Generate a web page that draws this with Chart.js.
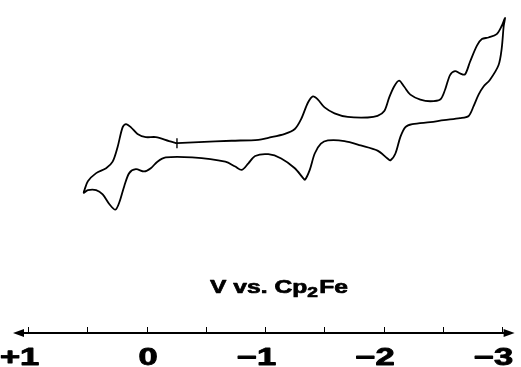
<!DOCTYPE html>
<html>
<head>
<meta charset="utf-8">
<script src="https://cdn.jsdelivr.net/npm/chart.js@4/dist/chart.umd.min.js"></script>
<style>
  html, body { margin: 0; padding: 0; background: #ffffff; }
  #wrap { width: 521px; height: 367px; }
</style>
</head>
<body>
<div id="wrap"><canvas id="cv" width="521" height="367"></canvas></div>
<script>
// Potential (V vs. Cp2Fe), in sweep order from the start point
const potentialV = [
  -0.256, -0.440, -0.717, -0.943, -1.027, -1.167, -1.251, -1.304, -1.362, -1.404,
  -1.446, -1.502, -1.586, -1.698, -1.866, -1.949, -2.006, -2.047, -2.089, -2.131,
  -2.173, -2.226, -2.310, -2.394, -2.478, -2.519, -2.561, -2.603, -2.645, -2.687,
  -2.729, -2.788, -2.830, -2.886, -2.955, -2.997, -3.025,
  -3.014, -2.997, -2.970, -2.897, -2.844, -2.802, -2.760, -2.718, -2.645, -2.509,
  -2.394, -2.243, -2.184, -2.142, -2.100, -2.058, -2.033, -1.949, -1.807, -1.670,
  -1.530, -1.471, -1.419, -1.377, -1.337, -1.321, -1.251, -1.136, -1.027, -0.916,
  -0.859, -0.803, -0.748, -0.664, -0.384, -0.161, -0.091, -0.035, 0.021, 0.091,
  0.147, 0.189, 0.231, 0.264, 0.314, 0.371, 0.426, 0.496, 0.530,
  0.524, 0.496, 0.426, 0.342, 0.287, 0.245, 0.203, 0.174, 0.132, 0.077,
  0.007, -0.077, -0.189, -0.256
];
// Current (arbitrary units), same order
const currentAU = [
  1.05, 1.17, 1.3, 1.4, 1.6, 2.0, 2.5, 3.5, 5.2, 5.83,
  5.5, 4.7, 4.1, 3.73, 3.67, 3.83, 4.33, 5.7, 6.83, 7.43,
  6.83, 6.0, 5.5, 5.33, 5.5, 6.5, 8.0, 8.4, 8.17, 8.07,
  9.33, 11.0, 11.67, 11.83, 12.17, 13.0, 13.83,
  13.0, 10.7, 9.0, 7.5, 6.83, 6.0, 4.83, 3.83, 3.6, 3.4,
  3.2, 3.0, 2.7, 1.7, 0.0, -0.7, -0.5, 0.3, 0.83, 1.27,
  1.33, 1.0, 0.0, -1.67, -2.67, -2.5, -1.5, -0.5, -0.07, -0.25,
  -1.0, -1.67, -1.33, -0.83, -0.4, -0.4, -0.83, -1.5, -1.83, -1.6,
  -2.0, -3.33, -5.0, -5.73, -5.17, -4.17, -3.73, -3.73, -4.0,
  -3.7, -2.83, -2.0, -1.5, -0.83, 0.67, 2.67, 3.0, 2.67, 2.0,
  1.67, 1.67, 1.27, 1.05
];
const startPotential = [-0.256];
const startCurrent = [1.05];

const tickValues = [1, 0.5, 0, -0.5, -1, -1.5, -2, -2.5, -3];
const labelValues = [1, 0, -1, -2, -3];
const labelTexts = ["+1", "0", "\u22121", "\u22122", "\u22123"];
const axisTitleMain = "V vs. Cp";
const axisTitleSub = "2";
const axisTitleEnd = "Fe";

const cvPoints = potentialV.map((v, i) => ({ x: v, y: currentAU[i] }));
const startPoints = startPotential.map((v, i) => ({ x: v, y: startCurrent[i] }));

function heavyText(ctx, t, x, y) {
  ctx.fillText(t, x, y);
  ctx.strokeText(t, x, y);
}

const axisPlugin = {
  id: 'potentialAxis',
  afterDraw(chart) {
    const ctx = chart.ctx;
    const xs = chart.scales.x;
    const area = chart.chartArea;
    const yAxis = area.bottom;
    ctx.save();
    ctx.strokeStyle = '#000';
    ctx.fillStyle = '#000';
    // axis line
    ctx.lineWidth = 2;
    ctx.beginPath();
    ctx.moveTo(area.left + 4, yAxis);
    ctx.lineTo(area.right - 4, yAxis);
    ctx.stroke();
    // arrowheads
    ctx.beginPath();
    ctx.moveTo(area.left, yAxis);
    ctx.lineTo(area.left + 11, yAxis - 4);
    ctx.lineTo(area.left + 11, yAxis + 4);
    ctx.closePath();
    ctx.fill();
    ctx.beginPath();
    ctx.moveTo(area.right, yAxis);
    ctx.lineTo(area.right - 11, yAxis - 4);
    ctx.lineTo(area.right - 11, yAxis + 4);
    ctx.closePath();
    ctx.fill();
    // ticks
    ctx.lineWidth = 1;
    tickValues.forEach(v => {
      const px = Math.round(xs.getPixelForValue(v)) + 0.5;
      ctx.beginPath();
      ctx.moveTo(px, yAxis - 6);
      ctx.lineTo(px, yAxis + 1);
      ctx.stroke();
    });
    // tick labels (wide heavy face)
    const sx = 1.5;
    ctx.font = 'bold 23px "Liberation Sans", Arial, sans-serif';
    ctx.textBaseline = 'alphabetic';
    ctx.textAlign = 'left';
    ctx.lineWidth = 0.9;
    ctx.lineJoin = 'round';
    labelValues.forEach((v, i) => {
      const t = labelTexts[i];
      const px = xs.getPixelForValue(v) + 1.5;
      const w = ctx.measureText(t).width * sx;
      const lw = ctx.measureText(t.slice(-1)).width * sx;
      const left = px + lw / 2 - w;
      ctx.save();
      ctx.translate(left, 365);
      ctx.scale(sx, 1);
      heavyText(ctx, t, 0, 0);
      ctx.restore();
    });
    // axis title
    const fMain = 'bold 18px "Liberation Sans", Arial, sans-serif';
    const fSub = 'bold 14px "Liberation Sans", Arial, sans-serif';
    ctx.font = fMain;
    const w1 = ctx.measureText(axisTitleMain).width;
    const w3 = ctx.measureText(axisTitleEnd).width;
    ctx.font = fSub;
    const w2 = ctx.measureText(axisTitleSub).width;
    const total = w1 + w2 + 1 + w3;
    const ts = 138 / total;
    ctx.lineWidth = 0.7;
    ctx.save();
    ctx.translate(210, 293);
    ctx.scale(ts, 1);
    ctx.font = fMain;
    heavyText(ctx, axisTitleMain, 0, 0);
    ctx.font = fSub;
    heavyText(ctx, axisTitleSub, w1, 4);
    ctx.font = fMain;
    heavyText(ctx, axisTitleEnd, w1 + w2 + 1, 0);
    ctx.restore();
    ctx.restore();
  }
};

new Chart(document.getElementById('cv'), {
  type: 'scatter',
  data: {
    datasets: [
      {
        data: cvPoints,
        showLine: true,
        borderColor: '#000',
        borderWidth: 1.8,
        pointRadius: 0,
        tension: 0.3,
        fill: false
      },
      {
        data: startPoints,
        showLine: false,
        pointStyle: 'line',
        rotation: 90,
        pointRadius: 5,
        borderColor: '#000',
        borderWidth: 1.4
      }
    ]
  },
  options: {
    responsive: false,
    devicePixelRatio: 1,
    animation: false,
    layout: { padding: { left: 13, right: 3, top: 0, bottom: 34 } },
    plugins: { legend: { display: false }, tooltip: { enabled: false } },
    scales: {
      x: { type: 'linear', reverse: true, min: -3.106, max: 1.128, display: false },
      y: { type: 'linear', min: -18.3, max: 15, display: false }
    }
  },
  plugins: [axisPlugin]
});
</script>
</body>
</html>
